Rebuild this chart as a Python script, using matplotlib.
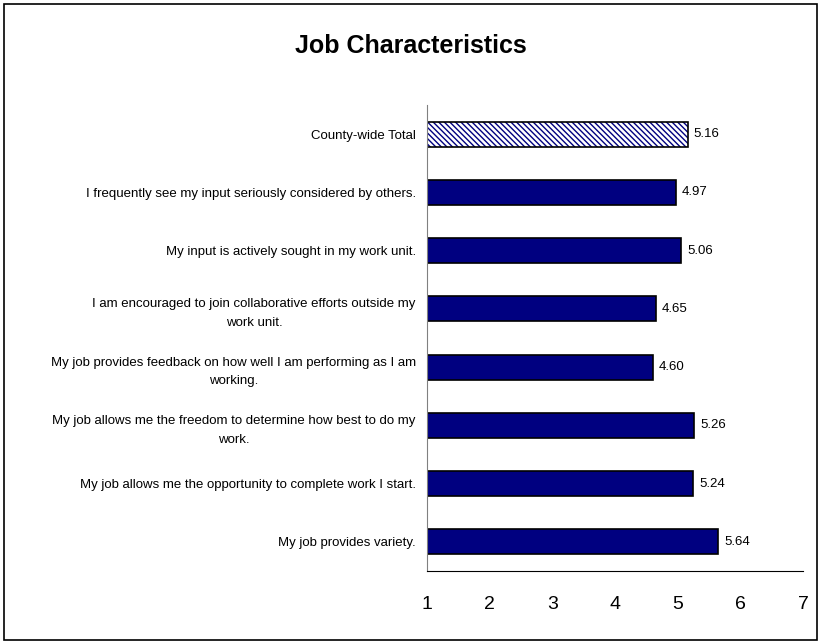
import matplotlib
matplotlib.use("Agg")
import matplotlib.pyplot as plt
from matplotlib.patches import Rectangle

categories = [
    "County-wide Total",
    "I frequently see my input seriously considered by others.",
    "My input is actively sought in my work unit.",
    "I am encouraged to join collaborative efforts outside my\nwork unit.",
    "My job provides feedback on how well I am performing as I am\nworking.",
    "My job allows me the freedom to determine how best to do my\nwork.",
    "My job allows me the opportunity to complete work I start.",
    "My job provides variety.",
]
values = [5.16, 4.97, 5.06, 4.65, 4.60, 5.26, 5.24, 5.64]
xticks = [1, 2, 3, 4, 5, 6, 7]

plt.rcParams['font.family'] = ['Liberation Sans', 'DejaVu Sans']
plt.rcParams['hatch.linewidth'] = 1.0

fig = plt.figure(figsize=(8.21, 6.44), dpi=100)
fig.patches.append(Rectangle((0.005, 0.006), 0.99, 0.988, transform=fig.transFigure,
                             fill=False, edgecolor='black', linewidth=1.2))
ax = fig.add_axes([0.520, 0.1134, 0.458, 0.7236])

n = len(categories)
ypos = list(range(n - 1, -1, -1))
for i, (y, v) in enumerate(zip(ypos, values)):
    if i == 0:
        ax.barh(y, v - 1, left=1, height=0.43, color='white', edgecolor='#000080',
                hatch='\\\\\\\\\\\\', linewidth=0)
        ax.barh(y, v - 1, left=1, height=0.43, fill=False, edgecolor='black',
                linewidth=1.2)
    else:
        ax.barh(y, v - 1, left=1, height=0.43, color='#000080', edgecolor='black',
                linewidth=1.2)
    ax.text(v + 0.1, y, f"{v:.2f}", va='center', ha='left', fontsize=9.5)

ax.set_xlim(1, 7)
ax.set_ylim(-0.5, n - 0.5)
ax.set_xticks(xticks)
ax.set_xticklabels([str(t) for t in xticks], fontsize=14)
ax.tick_params(axis='x', length=0, pad=18)
ax.set_yticks(ypos)
ax.set_yticklabels(categories, fontsize=9.5, multialignment='center', linespacing=1.75)
ax.tick_params(axis='y', length=0, pad=8)
for s in ['top', 'right']:
    ax.spines[s].set_visible(False)
ax.spines['left'].set_color('#808080')
ax.spines['bottom'].set_color('black')

fig.text(0.5, 0.928, "Job Characteristics", ha='center', va='center', fontsize=18,
         fontweight='bold')

fig.savefig("out.png", dpi=100)
